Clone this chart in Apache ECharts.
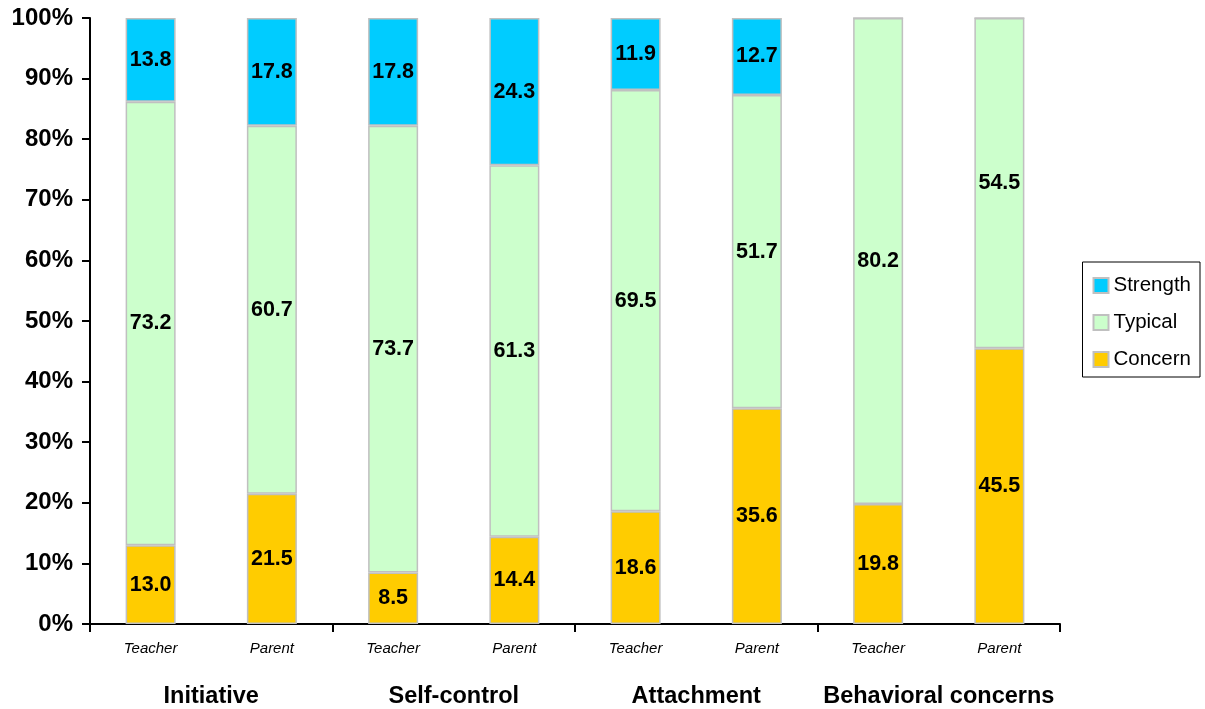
<!DOCTYPE html>
<html>
<head>
<meta charset="utf-8">
<script src="https://cdn.jsdelivr.net/npm/echarts@6/dist/echarts.min.js"></script>
<style>
html,body{margin:0;padding:0;background:#fff;}
#chart{width:1205px;height:709px;}
</style>
</head>
<body>
<div id="chart"></div>
<script>
var raters = ['Teacher','Parent','Teacher','Parent','Teacher','Parent','Teacher','Parent'];
var groups = ['Initiative','Self-control','Attachment','Behavioral concerns'];
var concern = [13.0, 21.5, 8.5, 14.4, 18.6, 35.6, 19.8, 45.5];
var typical = [73.2, 60.7, 73.7, 61.3, 69.5, 51.7, 80.2, 54.5];
var strength = [13.8, 17.8, 17.8, 24.3, 11.9, 12.7, 0, 0];
var yTicks = [0,10,20,30,40,50,60,70,80,90,100];

var FONT = '"Liberation Sans", Arial, sans-serif';
var chart = echarts.init(document.getElementById('chart'));

function mkSeries(name, data, color){
  return {
    name: name, type: 'bar', stack: 'total', data: data,
    barWidth: 50,
    itemStyle: {color: color, borderColor: '#c0c0c0', borderWidth: 1.5},
    label: {
      show: true, position: 'inside', color: '#000', fontWeight: 'bold',
      fontSize: 21.5, fontFamily: FONT,
      formatter: function(p){ return p.value > 0 ? p.value.toFixed(1) : ''; }
    },
    emphasis: {disabled: true}
  };
}

chart.setOption({
  animation: false,
  backgroundColor: '#fff',
  grid: {left: 90, right: 145, top: 18, bottom: 85},
  legend: {
    data: ['Strength','Typical','Concern'],
    orient: 'vertical',
    right: 5, top: 262,
    borderColor: '#000', borderWidth: 1,
    padding: [13, 9, 7, 10],
    itemWidth: 15, itemHeight: 15, itemGap: 16,
    textStyle: {fontSize: 20.5, fontFamily: FONT, color: '#000'},
    icon: 'rect'
  },
  xAxis: [{
    type: 'category', data: raters, position: 'bottom',
    axisLine: {lineStyle: {color: '#000', width: 2}},
    axisTick: {show: false},
    axisLabel: {fontSize: 15, fontStyle: 'italic', color: '#000', fontFamily: FONT, margin: 17, interval: 0}
  },{
    type: 'category', data: groups, position: 'bottom',
    axisLine: {show: false},
    axisTick: {show: true, length: 8, lineStyle: {color: '#000', width: 2}},
    axisLabel: {fontSize: 23.5, fontWeight: 'bold', color: '#000', fontFamily: FONT, margin: 61, interval: 0}
  }],
  yAxis: {
    type: 'value', min: 0, max: 100, interval: 10,
    axisLine: {show: true, lineStyle: {color: '#000', width: 2}},
    axisTick: {show: true, length: 8, lineStyle: {color: '#000', width: 2}},
    splitLine: {show: false},
    axisLabel: {formatter: '{value}%', fontSize: 24, fontWeight: 'bold', color: '#000', fontFamily: FONT, margin: 17}
  },
  series: [
    mkSeries('Concern', concern, '#ffcc00'),
    mkSeries('Typical', typical, '#ccffcc'),
    mkSeries('Strength', strength, '#00ccff')
  ]
});
</script>
</body>
</html>
